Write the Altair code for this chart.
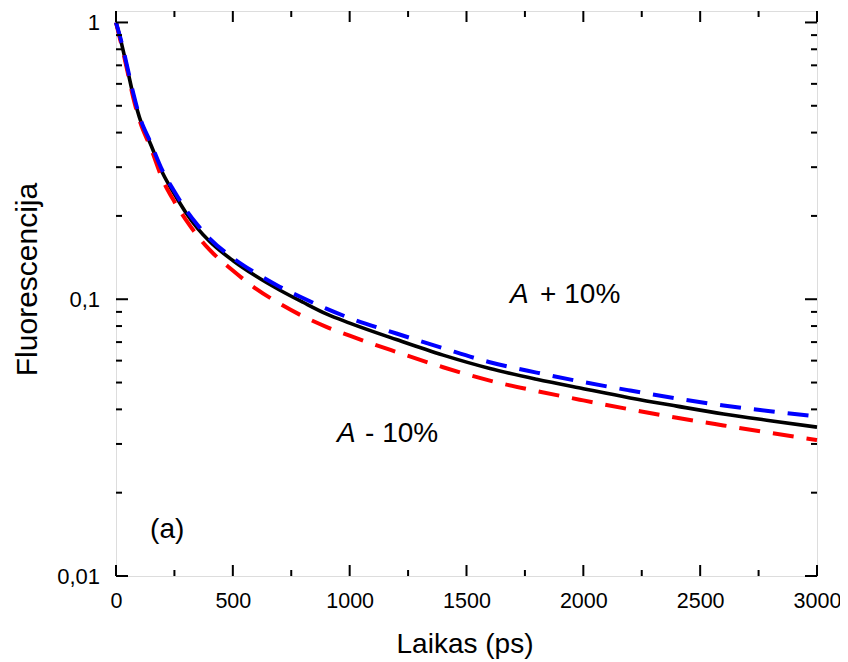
import altair as alt
import pandas as pd

# ---- data ----
t_ps = [0, 25, 50, 75, 100, 150, 200, 250, 300, 350, 400, 500, 600, 700, 800,
        900, 1000, 1200, 1400, 1600, 1800, 2000, 2200, 2400, 2600, 2800, 3000]
fluor_fit = [1.0, 0.83, 0.67, 0.54, 0.455, 0.36, 0.285, 0.24, 0.205, 0.18, 0.162,
             0.138, 0.121, 0.108, 0.0975, 0.0885, 0.082, 0.0715, 0.0628, 0.0562,
             0.0514, 0.0475, 0.0440, 0.0411, 0.0385, 0.0364, 0.0345]
fluor_plus = [1.0, 0.84, 0.68, 0.55, 0.46, 0.365, 0.29, 0.245, 0.21, 0.185, 0.166,
              0.141, 0.124, 0.111, 0.101, 0.0925, 0.0855, 0.0752, 0.0665, 0.0592,
              0.0543, 0.0502, 0.0468, 0.0438, 0.0413, 0.0394, 0.0377]
fluor_minus = [1.0, 0.82, 0.66, 0.53, 0.445, 0.35, 0.27, 0.225, 0.193, 0.169, 0.151,
               0.127, 0.109, 0.0965, 0.0868, 0.0795, 0.0738, 0.0645, 0.0568, 0.0508,
               0.0466, 0.0431, 0.0400, 0.0373, 0.0350, 0.0329, 0.031]

x_major = [0, 500, 1000, 1500, 2000, 2500, 3000]
x_minor = [250, 750, 1250, 1750, 2250, 2750]
y_major = [0.01, 0.1, 1]
y_minor = [0.02, 0.03, 0.04, 0.05, 0.06, 0.07, 0.08, 0.09,
           0.2, 0.3, 0.4, 0.5, 0.6, 0.7, 0.8, 0.9]

ann_text = ["A", "+ 10%", "A", "- 10%", "(a)"]
ann_t = [1686, 1815, 946, 1066, 146]
ann_v = [0.0967, 0.0967, 0.0305, 0.0305, 0.01377]
ann_italic = [True, False, True, False, False]

FONT = "Liberation Sans"
W, H = 701, 565

df = pd.DataFrame({"t": t_ps, "fit": fluor_fit, "plus": fluor_plus, "minus": fluor_minus})
ann = pd.DataFrame({"t": ann_t, "v": ann_v, "txt": ann_text, "it": ann_italic})

xs = alt.Scale(domain=[0, 3000], nice=False, zero=False)
ys = alt.Scale(type="log", domain=[0.01, 1.1], nice=False)

x_axis = alt.Axis(values=x_major, format="d", title="Laikas (ps)", ticks=False, tickSize=0,
                  domain=False, grid=False, labelFlush=False, labelOverlap=False,
                  labelFontSize=21.5, labelFont=FONT, labelColor="black",
                  labelBaseline="alphabetic", labelPadding=31,
                  titleFont=FONT, titleFontSize=28, titleFontWeight="normal",
                  titleColor="black", titleX=348.5, titleY=76.7,
                  titleBaseline="alphabetic", titleAlign="center")
y_axis = alt.Axis(values=y_major, title="Fluorescencija", ticks=False, tickSize=0,
                  domain=False, grid=False, labelOverlap=False,
                  labelExpr="replace(format(datum.value, '~g'), '.', ',')",
                  labelFontSize=22, labelFont=FONT, labelColor="black",
                  labelPadding=16.5,
                  titleFont=FONT, titleFontSize=30, titleFontWeight="normal",
                  titleColor="black", titleAngle=270, titleX=-79.3, titleY=268,
                  titleBaseline="alphabetic", titleAlign="center")

base = alt.Chart(df)
black = base.mark_line(color="black", strokeWidth=3.6, interpolate="monotone").encode(
    x=alt.X("t:Q", scale=xs, axis=x_axis),
    y=alt.Y("fit:Q", scale=ys, axis=y_axis),
)
red = base.mark_line(color="#ff0000", strokeWidth=4, strokeDash=[21, 13],
                     interpolate="monotone").encode(
    x=alt.X("t:Q", scale=xs), y=alt.Y("minus:Q", scale=ys))
blue = base.mark_line(color="#0000ff", strokeWidth=4, strokeDash=[21, 13],
                      interpolate="monotone").encode(
    x=alt.X("t:Q", scale=xs), y=alt.Y("plus:Q", scale=ys))

# inward ticks
xmaj = pd.DataFrame({"v": x_major})
xmin = pd.DataFrame({"v": x_minor})
ymaj = pd.DataFrame({"v": y_major})
ymin = pd.DataFrame({"v": y_minor})

def xticks(d, length):
    bot = alt.Chart(d).mark_rule(color="black", strokeWidth=2).encode(
        x=alt.X("v:Q", scale=xs), y=alt.value(H), y2=alt.value(H - length))
    top = alt.Chart(d).mark_rule(color="black", strokeWidth=2).encode(
        x=alt.X("v:Q", scale=xs), y=alt.value(0), y2=alt.value(length))
    return [bot, top]

def yticks(d, length):
    left = alt.Chart(d).mark_rule(color="black", strokeWidth=2).encode(
        y=alt.Y("v:Q", scale=ys), x=alt.value(0), x2=alt.value(length))
    right = alt.Chart(d).mark_rule(color="black", strokeWidth=2).encode(
        y=alt.Y("v:Q", scale=ys), x=alt.value(W - length), x2=alt.value(W))
    return [left, right]

ticks = xticks(xmaj, 11) + xticks(xmin, 6) + yticks(ymaj, 12) + yticks(ymin, 6)

ann_reg = alt.Chart(ann).transform_filter("!datum.it").mark_text(
    font=FONT, fontSize=28, align="left", baseline="alphabetic", color="black").encode(
    x=alt.X("t:Q", scale=xs), y=alt.Y("v:Q", scale=ys), text="txt:N")
ann_it = alt.Chart(ann).transform_filter("datum.it").mark_text(
    font=FONT, fontSize=28, fontStyle="italic", align="left", baseline="alphabetic",
    color="black").encode(
    x=alt.X("t:Q", scale=xs), y=alt.Y("v:Q", scale=ys), text="txt:N")

chart = alt.layer(black, red, blue, *ticks, ann_reg, ann_it).properties(
    width=W, height=H,
    autosize=alt.AutoSizeParams(type="none"),
    padding={"left": 108, "top": 3, "right": 23, "bottom": 83},
).configure_view(stroke="black", strokeWidth=2).configure(background="white")

chart.save("out.html", embed_options={"renderer": "svg", "actions": False})
